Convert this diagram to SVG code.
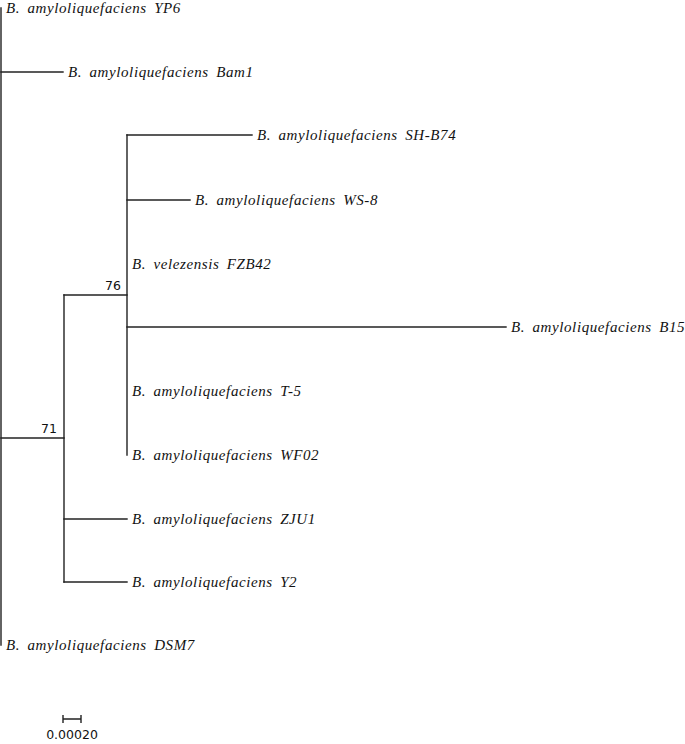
<svg xmlns="http://www.w3.org/2000/svg" width="685" height="744" viewBox="0 0 685 744">
<style>
.br{stroke:#222;stroke-width:1.4;fill:none;stroke-linecap:square}
.lb{font-family:"Liberation Serif",serif;font-style:italic;font-size:15px;fill:#111;word-spacing:3px;letter-spacing:0.6px}
.bs{font-family:"DejaVu Sans","Liberation Sans",sans-serif;font-size:12.5px;fill:#111}
</style>
<rect width="685" height="744" fill="#fff"/>
<g id="connectors">
<path class="br" d="M1,8V645"/>
<path class="br" d="M1,72H63"/>
<path class="br" d="M1,438H64"/>
<path class="br" d="M64,295V582"/>
<path class="br" d="M64,295H127"/>
<path class="br" d="M127,135V455"/>
<path class="br" d="M127,135H252"/>
<path class="br" d="M127,200H190"/>
<path class="br" d="M127,327H506"/>
<path class="br" d="M64,519H127"/>
<path class="br" d="M64,582H127"/>
</g>
<g id="YP6"><text class="lb" x="6" y="13">B. amyloliquefaciens YP6</text></g>
<g id="Bam1"><text class="lb" x="68" y="77">B. amyloliquefaciens Bam1</text></g>
<g id="SH-B74"><text class="lb" x="257" y="140">B. amyloliquefaciens SH-B74</text></g>
<g id="WS-8"><text class="lb" x="195" y="205">B. amyloliquefaciens WS-8</text></g>
<g id="FZB42"><text class="lb" x="132" y="269">B. velezensis FZB42</text></g>
<g id="B15"><text class="lb" x="511" y="332">B. amyloliquefaciens B15</text></g>
<g id="T-5"><text class="lb" x="132" y="396">B. amyloliquefaciens T-5</text></g>
<g id="WF02"><text class="lb" x="132" y="460">B. amyloliquefaciens WF02</text></g>
<g id="ZJU1"><text class="lb" x="132" y="524">B. amyloliquefaciens ZJU1</text></g>
<g id="Y2"><text class="lb" x="132" y="587">B. amyloliquefaciens Y2</text></g>
<g id="DSM7"><text class="lb" x="6" y="650">B. amyloliquefaciens DSM7</text></g>
<g id="node76"><text class="bs" x="121" y="290" text-anchor="end">76</text></g>
<g id="node71"><text class="bs" x="57" y="433" text-anchor="end">71</text></g>
<g id="scale">
<path class="br" d="M63,719H81M63,715V723M81,715V723" style="stroke-linecap:butt"/>
<text class="bs" x="72" y="739" text-anchor="middle">0.00020</text>
</g>
</svg>
